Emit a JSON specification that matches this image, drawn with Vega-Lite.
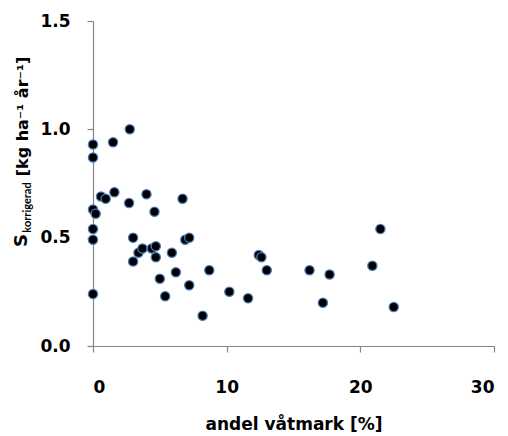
{
  "$schema": "https://vega.github.io/schema/vega-lite/v6.json",
  "width": 401,
  "height": 325,
  "autosize": {"type": "none"},
  "padding": {"left": 93, "top": 21, "right": 14, "bottom": 90},
  "background": "white",
  "config": {
    "view": {"stroke": null},
    "font": "DejaVu Sans",
    "axis": {
      "grid": false,
      "domainColor": "#868686",
      "domainWidth": 1.2,
      "tickColor": "#868686",
      "tickWidth": 1.2,
      "tickSize": 6,
      "labelFont": "DejaVu Sans",
      "labelFontWeight": "bold",
      "labelFontSize": 17,
      "labelColor": "#000000",
      "titleFont": "DejaVu Sans",
      "titleFontWeight": "bold",
      "titleColor": "#000000"
    }
  },
  "data": {
    "values": [
      {"andel": 0.0, "s": 0.93}, {"andel": 0.0, "s": 0.87}, {"andel": 0.0, "s": 0.63},
      {"andel": 0.2, "s": 0.61}, {"andel": 0.0, "s": 0.54}, {"andel": 0.0, "s": 0.49},
      {"andel": 0.0, "s": 0.24}, {"andel": 0.6, "s": 0.69}, {"andel": 0.95, "s": 0.68},
      {"andel": 1.5, "s": 0.94}, {"andel": 1.6, "s": 0.71}, {"andel": 2.7, "s": 0.66},
      {"andel": 2.75, "s": 1.0}, {"andel": 3.0, "s": 0.5}, {"andel": 3.0, "s": 0.39},
      {"andel": 3.4, "s": 0.43}, {"andel": 3.7, "s": 0.45}, {"andel": 4.0, "s": 0.7},
      {"andel": 4.4, "s": 0.45}, {"andel": 4.7, "s": 0.46}, {"andel": 4.6, "s": 0.62},
      {"andel": 4.7, "s": 0.41}, {"andel": 5.0, "s": 0.31}, {"andel": 5.4, "s": 0.23},
      {"andel": 5.9, "s": 0.43}, {"andel": 6.2, "s": 0.34}, {"andel": 6.7, "s": 0.68},
      {"andel": 6.9, "s": 0.49}, {"andel": 7.2, "s": 0.5}, {"andel": 7.2, "s": 0.28},
      {"andel": 8.2, "s": 0.14}, {"andel": 8.7, "s": 0.35}, {"andel": 10.2, "s": 0.25},
      {"andel": 11.6, "s": 0.22}, {"andel": 12.4, "s": 0.42}, {"andel": 12.6, "s": 0.41},
      {"andel": 13.0, "s": 0.35}, {"andel": 16.2, "s": 0.35}, {"andel": 17.2, "s": 0.2},
      {"andel": 17.7, "s": 0.33}, {"andel": 20.9, "s": 0.37}, {"andel": 21.5, "s": 0.54},
      {"andel": 22.5, "s": 0.18}
    ]
  },
  "resolve": {"axis": {"y": "independent"}},
  "layer": [
    {
      "mark": {
        "type": "point",
        "filled": true,
        "shape": "circle",
        "size": 85,
        "fill": "#000000",
        "stroke": "#4a7ebb",
        "strokeWidth": 1.3,
        "opacity": 1
      },
      "encoding": {
        "x": {
          "field": "andel", "type": "quantitative",
          "scale": {"domain": [0, 30], "nice": false, "zero": false},
          "axis": {
            "orient": "bottom",
            "title": "andel våtmark [%]",
            "values": [0, 10, 20, 30],
            "format": "d",
            "labelBaseline": "middle",
            "labelPadding": 35,
            "titleFontSize": 17,
            "titleBaseline": "middle",
            "titleY": 78
          }
        },
        "y": {
          "field": "s", "type": "quantitative",
          "scale": {"domain": [0, 1.5], "nice": false},
          "axis": {
            "orient": "left",
            "title": "S",
            "values": [0, 0.5, 1.0, 1.5],
            "format": ".1f",
            "labelPadding": 17,
            "titleFontSize": 18,
            "titleAngle": 270,
            "titleAlign": "center",
            "titleBaseline": "middle",
            "titleX": -72,
            "titleY": 219
          }
        }
      }
    },
    {
      "mark": {"type": "point", "opacity": 0},
      "encoding": {
        "x": {"field": "andel", "type": "quantitative"},
        "y": {
          "field": "s", "type": "quantitative",
          "axis": {
            "orient": "left",
            "title": "korrigerad",
            "labels": false, "ticks": false, "domain": false,
            "titleFont": "Lato",
            "titleFontSize": 11,
            "titleAngle": 270,
            "titleAlign": "center",
            "titleBaseline": "middle",
            "titleX": -66,
            "titleY": 186
          }
        }
      }
    },
    {
      "mark": {"type": "point", "opacity": 0},
      "encoding": {
        "x": {"field": "andel", "type": "quantitative"},
        "y": {
          "field": "s", "type": "quantitative",
          "axis": {
            "orient": "left",
            "title": "[kg ha⁻¹ år⁻¹]",
            "labels": false, "ticks": false, "domain": false,
            "titleFontSize": 16,
            "titleAngle": 270,
            "titleAlign": "center",
            "titleBaseline": "middle",
            "titleX": -71,
            "titleY": 95
          }
        }
      }
    }
  ]
}
